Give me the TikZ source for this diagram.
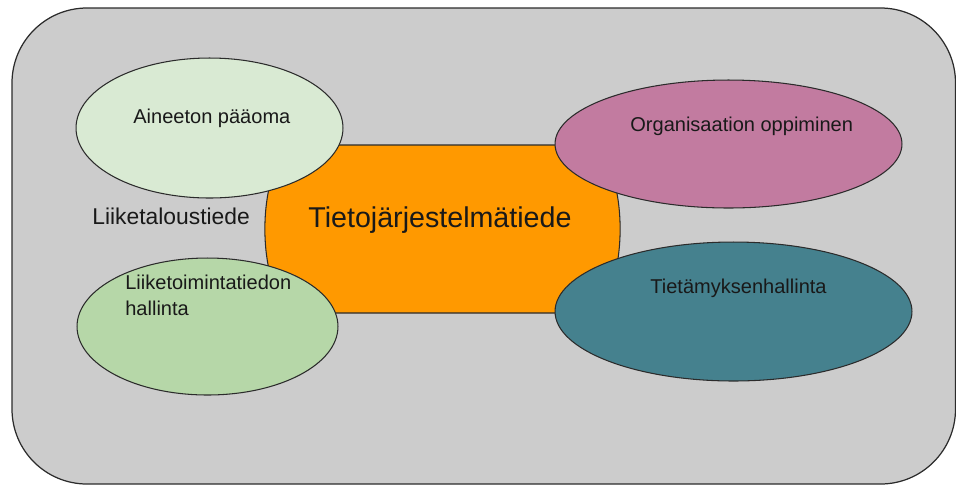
\documentclass[tikz,border=0pt]{standalone}
\usepackage{fontspec}
\setmainfont{Liberation Sans}
\usetikzlibrary{shapes.geometric}
\definecolor{panelgrey}{HTML}{CCCCCC}
\definecolor{palegreen}{HTML}{D9EAD3}
\definecolor{midgreen}{HTML}{B6D7A8}
\definecolor{coreorange}{HTML}{FF9900}
\definecolor{mauve}{HTML}{C27BA0}
\definecolor{teal}{HTML}{45818E}
\definecolor{edge}{HTML}{2B2B2B}
\tikzset{
  blob/.style={ellipse, draw=edge, line width=0.6pt, inner sep=0pt},
  label/.style={inner sep=0pt, anchor=base west, font=\fontsize{11.4}{13}\selectfont, text=black!90},
  biglabel/.style={label, font=\fontsize{13}{15}\selectfont},
  title/.style={inner sep=0pt, anchor=base west, font=\fontsize{16.3}{19}\selectfont, text=black!90}
}
\begin{document}
\begin{tikzpicture}[x=0.02cm, y=-0.02cm]
  \useasboundingbox (0,0) rectangle (956,485);
  % outer panel
  \draw[fill=panelgrey, draw=edge, line width=0.7pt, rounded corners=1.5cm]
    (12,8) rectangle (955.5,484);
  % central field shape with bulging sides
  \draw[fill=coreorange, draw=edge, line width=0.6pt]
    (288.5,145) -- (596.5,145)
    .. controls (628,180) and (628,278) .. (596.5,313)
    -- (288.5,313)
    .. controls (257,278) and (257,180) .. (288.5,145) -- cycle;
  \node[title] (core) at (308,227) {Tietojärjestelmätiede};
  % surrounding fields
  \node[blob, fill=palegreen, minimum width=5.34cm, minimum height=2.8cm] (aineeton) at (209.5,128) {};
  \node[blob, fill=midgreen, minimum width=5.22cm, minimum height=2.74cm] (liiketoiminta) at (207.5,326.5) {};
  \node[blob, fill=mauve, minimum width=6.94cm, minimum height=2.56cm] (organisaatio) at (728.5,144) {};
  \node[blob, fill=teal, minimum width=7.14cm, minimum height=2.78cm] (tietamys) at (733.5,311.5) {};
  % texts
  \node[label] (aineetonText) at (133,123) {Aineeton pääoma};
  \node[biglabel] (liiketalous) at (92,224) {Liiketaloustiede};
  \node[label] (liiketoimintaA) at (125,289) {Liiketoimintatiedon};
  \node[label] (liiketoimintaB) at (125,315) {hallinta};
  \node[label] (organisaatioText) at (630,131) {Organisaation oppiminen};
  \node[label] (tietamysText) at (650,293) {Tietämyksenhallinta};
\end{tikzpicture}
\end{document}
